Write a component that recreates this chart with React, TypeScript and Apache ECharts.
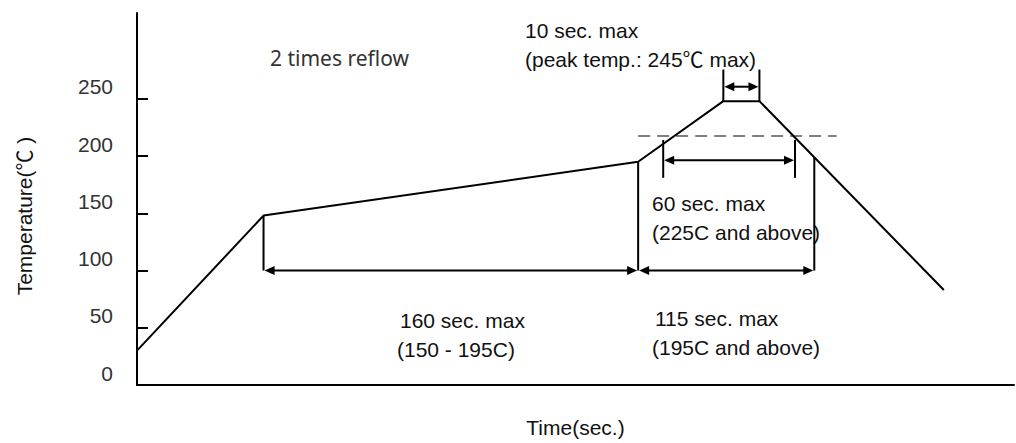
import React, { useEffect, useRef } from "react";
import * as echarts from "echarts";

// Reflow profile (time in sec., temperature in °C)
const profileTime = [0, 50.5, 200, 234, 248.4, 322];
const profileTemp = [30, 148, 195, 248, 248, 83];

// Vertical marker lines: time, from temp, to temp
const markerTime = [50.5, 200, 210, 262.6, 270.3, 234, 248.4];
const markerFromTemp = [148, 195, 181, 181, 199, 248, 248];
const markerToTemp = [100, 100, 214, 214, 100, 275.6, 275.6];

// Double-headed dimension arrows: start time, end time, temp level
const arrowFromTime = [50.5, 200, 210, 234];
const arrowToTime = [200, 270.3, 262.6, 248.4];
const arrowTemp = [100, 100, 196.3, 260.6];

// 225C reference (dashed)
const dashedTime = [200, 279.2];
const dashedTemp = [217.5, 217.5];

const yTickValues = [50, 100, 150, 200, 250];
const yLabelValues = [0, 50, 100, 150, 200, 250];

const annotations = [
  { text: "2 times reflow", x: 270, y: 58, font: "Noto Sans" },
  { text: "10 sec. max", x: 525, y: 30 },
  { text: "(peak temp.: 245℃ max)", x: 525, y: 59 },
  { text: "60 sec. max", x: 652, y: 203 },
  { text: "(225C and above)", x: 652, y: 232 },
  { text: "115 sec. max", x: 655, y: 318 },
  { text: "(195C and above)", x: 652, y: 347 },
  { text: "160 sec. max", x: 400, y: 320 },
  { text: "(150 - 195C)", x: 397, y: 349 },
];

const FONT = "'Liberation Sans', Arial, 'Noto Sans CJK SC', sans-serif";

export default function App() {
  const ref = useRef<HTMLDivElement>(null);
  useEffect(() => {
    if (!ref.current) return;
    const chart = echarts.init(ref.current, undefined, { renderer: "svg" });
    const option: any = {
      animation: false,
      backgroundColor: "#ffffff",
      grid: { left: 137, right: 2, top: 13, bottom: 55 },
      xAxis: {
        type: "value",
        min: 0,
        max: 350,
        name: "Time(sec.)",
        nameLocation: "middle",
        nameGap: 32,
        nameTextStyle: { fontFamily: FONT, fontSize: 21, color: "#111" },
        axisLine: { show: true, onZero: false, lineStyle: { color: "#000", width: 2 } },
        axisTick: { show: false },
        axisLabel: { show: false },
        splitLine: { show: false },
      },
      yAxis: {
        type: "value",
        min: 0,
        max: 325,
        interval: 50,
        axisLine: { show: true, lineStyle: { color: "#000", width: 2 } },
        axisTick: {
          show: true,
          inside: true,
          length: 11,
          customValues: yTickValues,
          lineStyle: { color: "#000", width: 2 },
        },
        axisLabel: {
          show: true,
          customValues: yLabelValues,
          margin: 24,
          fontFamily: FONT,
          fontSize: 21,
          color: "#333",
          verticalAlign: "bottom",
          lineHeight: 24,
        },
        splitLine: { show: false },
      },
      graphic: [
        {
          type: "text",
          x: 24,
          y: 216,
          rotation: Math.PI / 2,
          style: {
            text: "Temperature(℃ )",
            fontFamily: FONT,
            fontSize: 21,
            fill: "#111",
            align: "center",
            verticalAlign: "middle",
          },
        },
        ...annotations.map((a) => ({
          type: "text",
          x: a.x,
          y: a.y,
          style: {
            text: a.text,
            fontFamily: a.font ? `'${a.font}', sans-serif` : FONT,
            fontSize: 21,
            fill: a.font ? "#333" : "#111",
            align: "left",
            verticalAlign: "middle",
          },
        })),
      ],
      series: [
        {
          type: "line",
          data: profileTime.map((t, i) => [t, profileTemp[i]]),
          symbol: "none",
          lineStyle: { color: "#000", width: 2 },
          z: 3,
        },
        {
          type: "line",
          data: dashedTime.map((t, i) => [t, dashedTemp[i]]),
          symbol: "none",
          lineStyle: { color: "#808080", width: 2, type: [12, 7] },
          z: 2,
        },
        {
          type: "custom",
          clip: false,
          encode: { x: 0, y: [1, 2] },
          data: markerTime.map((t, i) => [t, markerFromTemp[i], markerToTemp[i]]),
          renderItem: (params: any, api: any) => {
            const p1 = api.coord([api.value(0), api.value(1)]);
            const p2 = api.coord([api.value(0), api.value(2)]);
            return {
              type: "line",
              shape: { x1: p1[0], y1: p1[1], x2: p2[0], y2: p2[1] },
              style: { stroke: "#000", lineWidth: 2 },
            };
          },
          z: 3,
        },
        {
          type: "custom",
          clip: false,
          encode: { x: [0, 1], y: 2 },
          data: arrowFromTime.map((t, i) => [t, arrowToTime[i], arrowTemp[i]]),
          renderItem: (params: any, api: any) => {
            const p1 = api.coord([api.value(0), api.value(2)]);
            const p2 = api.coord([api.value(1), api.value(2)]);
            const L = 10;
            const W = 4.5;
            return {
              type: "group",
              children: [
                {
                  type: "line",
                  shape: { x1: p1[0] + L - 1, y1: p1[1], x2: p2[0] - L + 1, y2: p2[1] },
                  style: { stroke: "#000", lineWidth: 2 },
                },
                {
                  type: "polygon",
                  shape: { points: [[p1[0] + 1, p1[1]], [p1[0] + L + 1, p1[1] - W], [p1[0] + L + 1, p1[1] + W]] },
                  style: { fill: "#000" },
                },
                {
                  type: "polygon",
                  shape: { points: [[p2[0] - 1, p2[1]], [p2[0] - L - 1, p2[1] - W], [p2[0] - L - 1, p2[1] + W]] },
                  style: { fill: "#000" },
                },
              ],
            };
          },
          z: 3,
        },
      ],
    };
    chart.setOption(option);
    return () => chart.dispose();
  }, []);
  return (
    <div
      ref={ref}
      style={{ position: "fixed", left: 0, top: 0, width: 1016, height: 443, background: "#fff" }}
    />
  );
}
